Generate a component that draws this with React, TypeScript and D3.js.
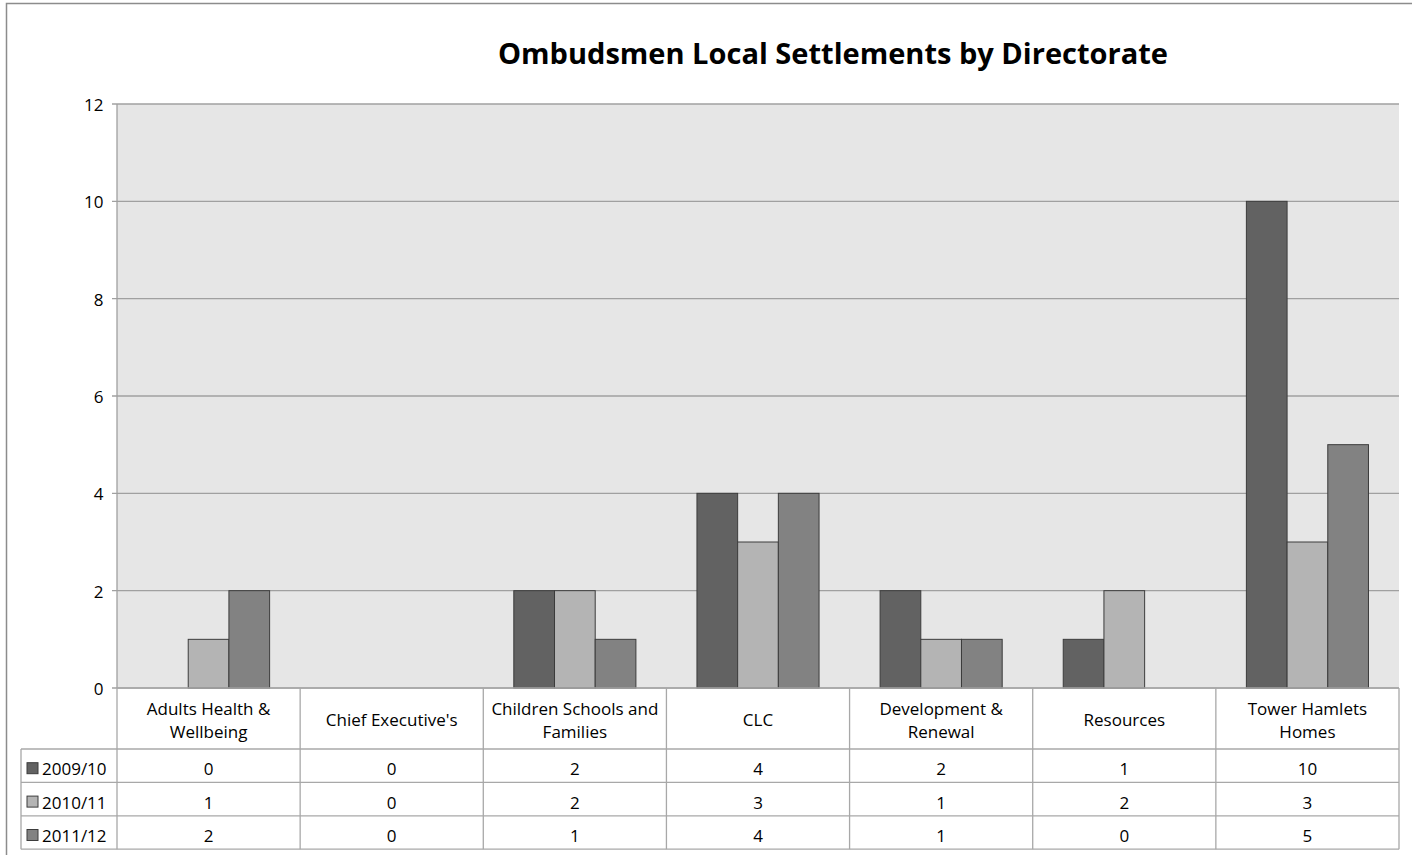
import React, { useEffect, useRef } from 'react';
import * as d3 from 'd3';

const categories = [
  ['Adults Health &', 'Wellbeing'],
  ["Chief Executive's"],
  ['Children Schools and', 'Families'],
  ['CLC'],
  ['Development &', 'Renewal'],
  ['Resources'],
  ['Tower Hamlets', 'Homes'],
];
const seriesNames = ['2009/10', '2010/11', '2011/12'];
const values2009 = [0, 0, 2, 4, 2, 1, 10];
const values2010 = [1, 0, 2, 3, 1, 2, 3];
const values2011 = [2, 0, 1, 4, 1, 0, 5];
const seriesColors = ['#626262', '#b4b4b4', '#828282'];
const yTicks = [0, 2, 4, 6, 8, 10, 12];

const W = 1412;
const H = 855;
const PLOT = { left: 117, right: 1399, top: 104, bottom: 688 };
const FONT = '"Open Sans", Lato, sans-serif';
const FS = '17px';

export default function App() {
  const ref = useRef<SVGSVGElement>(null);

  useEffect(() => {
    const svg = d3.select(ref.current);
    svg.selectAll('*').remove();
    const series = [values2009, values2010, values2011];
    const idx = d3.range(categories.length);

    // chart frame (left + top edge visible only)
    svg.append('rect').attr('x', 6.5).attr('y', 3.5)
      .attr('width', W + 20).attr('height', H + 20)
      .attr('fill', '#fff').attr('stroke', '#8c8c8c').attr('stroke-width', 1.5);

    svg.append('text')
      .attr('x', 833).attr('y', 64)
      .attr('text-anchor', 'middle')
      .attr('font-family', FONT).attr('font-weight', 'bold')
      .attr('font-size', '28.5px').attr('fill', '#000')
      .attr('textLength', 670).attr('lengthAdjust', 'spacingAndGlyphs')
      .text('Ombudsmen Local Settlements by Directorate');

    const x = d3.scaleBand<number>().domain(idx)
      .range([PLOT.left, PLOT.right]).paddingInner(0).paddingOuter(0);
    const inner = d3.scaleBand<number>().domain(d3.range(3))
      .range([0, x.bandwidth()]).paddingOuter(0.75).paddingInner(0);
    const y = d3.scaleLinear().domain([0, 12]).range([PLOT.bottom, PLOT.top]);

    const g = svg.append('g');
    g.append('rect')
      .attr('x', PLOT.left).attr('y', PLOT.top)
      .attr('width', PLOT.right - PLOT.left).attr('height', PLOT.bottom - PLOT.top)
      .attr('fill', '#e6e6e6');

    // gridlines
    g.selectAll('line.grid').data(yTicks).join('line')
      .attr('x1', PLOT.left - 5).attr('x2', PLOT.right)
      .attr('y1', d => y(d)).attr('y2', d => y(d))
      .attr('stroke', '#a0a0a0').attr('stroke-width', 1.3);

    g.selectAll('text.ytick').data(yTicks).join('text')
      .attr('x', 103.5).attr('y', d => y(d) + 7)
      .attr('text-anchor', 'end')
      .attr('font-family', FONT).attr('font-size', FS).attr('fill', '#000')
      .text(d => d);

    g.append('line')
      .attr('x1', PLOT.left).attr('x2', PLOT.left)
      .attr('y1', PLOT.top).attr('y2', PLOT.bottom)
      .attr('stroke', '#a0a0a0').attr('stroke-width', 1.3);

    // bars
    series.forEach((vals, s) => {
      g.selectAll(`rect.s${s}`).data(idx.filter(i => vals[i] > 0)).join('rect')
        .attr('x', i => (x(i) as number) + (inner(s) as number))
        .attr('y', i => y(vals[i]))
        .attr('width', inner.bandwidth())
        .attr('height', i => y(0) - y(vals[i]))
        .attr('fill', seriesColors[s])
        .attr('stroke', '#3c3c3c').attr('stroke-width', 1);
    });

    // data table
    const rowTop = 749;
    const rowH = 33.4;
    const tableBottom = rowTop + rowH * 3;
    const legendLeft = 21;
    const t = svg.append('g').attr('stroke', '#a8a8a8').attr('stroke-width', 1.3);
    d3.range(4).forEach(r => {
      t.append('line')
        .attr('x1', legendLeft).attr('x2', PLOT.right)
        .attr('y1', rowTop + r * rowH).attr('y2', rowTop + r * rowH);
    });
    t.append('line').attr('x1', PLOT.left).attr('x2', PLOT.right)
      .attr('y1', PLOT.bottom).attr('y2', PLOT.bottom);
    t.append('line').attr('x1', legendLeft).attr('x2', legendLeft)
      .attr('y1', rowTop).attr('y2', tableBottom);
    d3.range(categories.length + 1).forEach(i => {
      const xx = PLOT.left + i * x.bandwidth();
      t.append('line').attr('x1', xx).attr('x2', xx)
        .attr('y1', PLOT.bottom).attr('y2', tableBottom);
    });

    // category headers
    categories.forEach((lines, i) => {
      const cx = (x(i) as number) + x.bandwidth() / 2;
      const startY = lines.length === 2 ? 715 : 726;
      lines.forEach((ln, k) => {
        svg.append('text')
          .attr('x', cx).attr('y', startY + k * 23)
          .attr('text-anchor', 'middle')
          .attr('font-family', FONT).attr('font-size', FS).attr('fill', '#000')
          .text(ln);
      });
    });

    // rows
    series.forEach((vals, s) => {
      const cy = rowTop + s * rowH + rowH / 2;
      svg.append('rect')
        .attr('x', 27).attr('y', cy - 3).attr('width', 11).attr('height', 11)
        .attr('fill', seriesColors[s]).attr('stroke', '#3c3c3c').attr('stroke-width', 1);
      svg.append('text')
        .attr('x', 42).attr('y', cy + 9.5)
        .attr('font-family', FONT).attr('font-size', FS).attr('fill', '#000')
        .text(seriesNames[s]);
      vals.forEach((v, i) => {
        svg.append('text')
          .attr('x', (x(i) as number) + x.bandwidth() / 2).attr('y', cy + 9.5)
          .attr('text-anchor', 'middle')
          .attr('font-family', FONT).attr('font-size', FS).attr('fill', '#000')
          .text(v);
      });
    });
  }, []);

  return (
    <div style={{ position: 'absolute', left: 0, top: 0 }}>
      <svg ref={ref} width={W} height={H} style={{ display: 'block' }} />
    </div>
  );
}
